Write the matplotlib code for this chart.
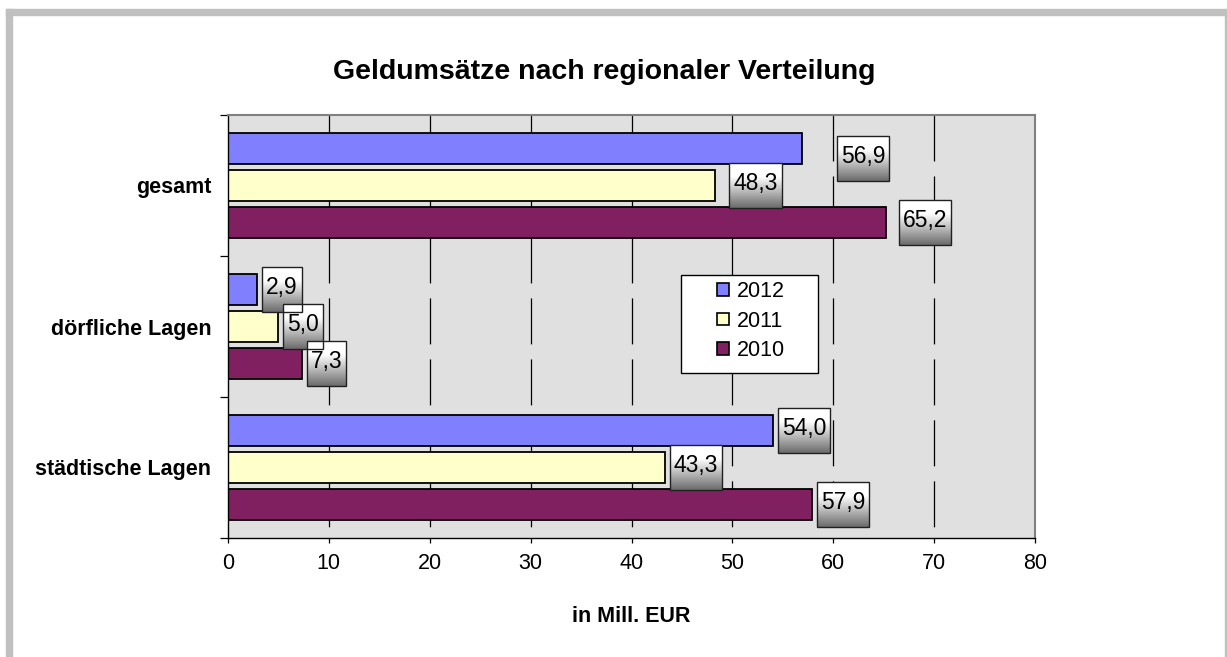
import numpy as np
import matplotlib
matplotlib.use('Agg')
import matplotlib.pyplot as plt
from matplotlib.patches import Rectangle, Patch

plt.rcParams['font.family'] = ['Liberation Sans', 'DejaVu Sans']
plt.rcParams['lines.scale_dashes'] = False

# Data (Mill. EUR), categories listed bottom to top
categories = ['städtische Lagen', 'dörfliche Lagen', 'gesamt']
years = ['2012', '2011', '2010']
values_2012 = [54.0, 2.9, 56.9]
values_2011 = [43.3, 5.0, 48.3]
values_2010 = [57.9, 7.3, 65.2]
series = [values_2012, values_2011, values_2010]
colors = ['#8080ff', '#ffffcc', '#802060']
x_ticks = [0, 10, 20, 30, 40, 50, 60, 70, 80]

W, H = 1227, 657
fig = plt.figure(figsize=(W / 100, H / 100), dpi=100)
fig.patch.set_facecolor('white')
ax = fig.add_axes([228 / W, 1 - 538 / H, (1035 - 228) / W, (538 - 115) / H])
ax.set_facecolor('#e0e0e0')

# outer frame
frame_c = '#c0c0c0'
fig.patches.append(Rectangle((6 / W, 0), 6 / W, 1 - 9 / H, transform=fig.transFigure,
                             color=frame_c, zorder=0))
fig.patches.append(Rectangle((6 / W, 1 - 15 / H), (1226 - 6) / W, 6 / H, transform=fig.transFigure,
                             color=frame_c, zorder=0))
fig.patches.append(Rectangle((1225 / W, 0), 1.5 / W, 1 - 9 / H, transform=fig.transFigure,
                             color=frame_c, zorder=0))

y = np.arange(len(categories))
step = 0.262
bar_h = 0.215

# dashed gridlines, drawn from the top down
for xv in x_ticks[1:-1]:
    ln, = ax.plot([xv, xv], [2.5, -0.5], color='black', lw=0.9, zorder=1)
    ln.set_dashes((33.1, 10.8))

label_offsets = {(0, 2): (34, -10), (1, 2): (13, 0), (2, 2): (12, 0)}
texts = []
for i, (vals, col) in enumerate(zip(series, colors)):
    ypos = y + step * (1 - i)
    ax.barh(ypos, vals, height=bar_h, color=col, edgecolor='black', linewidth=1.3, zorder=2)
    for j, v in enumerate(vals):
        dx, dy = label_offsets.get((i, j), (4, 0))
        t = ax.annotate(f'{v:.1f}'.replace('.', ','), (v, ypos[j]), xytext=(dx + 5, dy + 2),
                        textcoords='offset pixels', ha='left', va='center',
                        fontsize=16.5, color='black', zorder=6)
        texts.append(t)

ax.set_xlim(0, 80)
ax.set_ylim(-0.5, 2.5)
ax.set_xticks(x_ticks)
ax.tick_params(axis='x', direction='out', length=3.6, width=0.9, pad=7, labelsize=15.5)
ax.set_yticks(y)
ax.set_yticklabels(categories, fontsize=15.5, fontweight='bold')
ax.tick_params(axis='y', which='major', length=0, pad=12)
ax.set_yticks([-0.5, 0.5, 1.5, 2.5], minor=True)
ax.tick_params(axis='y', which='minor', direction='out', length=5.8, width=0.9)

for s in ['top', 'right']:
    ax.spines[s].set_color('#808080')
    ax.spines[s].set_linewidth(1.5)
for s in ['left', 'bottom']:
    ax.spines[s].set_color('black')
    ax.spines[s].set_linewidth(1)

ax.set_xlabel('in Mill. EUR', fontsize=15.5, fontweight='bold')
ax.xaxis.set_label_coords(0.5, -0.16)
fig.text(604 / W, 1 - 72 / H, 'Geldumsätze nach regionaler Verteilung', ha='center', va='center',
         fontsize=20.5, fontweight='bold')

# legend with manual box
fig.patches.append(Rectangle((681 / W, 1 - 373 / H), (818 - 681) / W, (373 - 275) / H,
                             transform=fig.transFigure, facecolor='white', edgecolor='black',
                             linewidth=1, zorder=3))
handles = [Patch(facecolor=c, edgecolor='black', linewidth=1.2) for c in colors]
leg = fig.legend(handles, years, loc='upper left', bbox_to_anchor=(717 / W, 1 - 281 / H),
                 bbox_transform=fig.transFigure, frameon=False, fontsize=15.5,
                 handlelength=0.55, handleheight=0.55, handletextpad=0.35, labelspacing=0.4,
                 borderpad=0, borderaxespad=0)
leg.set_zorder(4)

# gradient boxes behind the data labels
fig.canvas.draw()
renderer = fig.canvas.get_renderer()
grad = np.ones((100, 2, 3))
g = np.linspace(0, 1, 100)
shade = np.where(g < 0.3, 1.0, 1.0 - (g - 0.3) / 0.7 * 0.58)
grad *= shade[:, None, None]
inv = ax.transData.inverted()
for t in texts:
    ext = t.get_window_extent(renderer)
    cy = (ext.y0 + ext.y1) / 2 - 2
    x0, x1 = ext.x0 - 4, ext.x1 + 4
    y0, y1 = cy - 22.5, cy + 22.5
    (dx0, dy0) = inv.transform((x0, y0))
    (dx1, dy1) = inv.transform((x1, y1))
    ax.imshow(grad, extent=[dx0, dx1, dy0, dy1], aspect='auto', origin='upper',
              interpolation='bilinear', zorder=4, clip_on=False)
    ax.add_patch(Rectangle((dx0, dy0), dx1 - dx0, dy1 - dy0, fill=False, edgecolor='#202020',
                           linewidth=1, zorder=5, clip_on=False))
ax.set_xlim(0, 80)
ax.set_ylim(-0.5, 2.5)
ax.set_aspect('auto')

fig.savefig('out.png', dpi=100)
